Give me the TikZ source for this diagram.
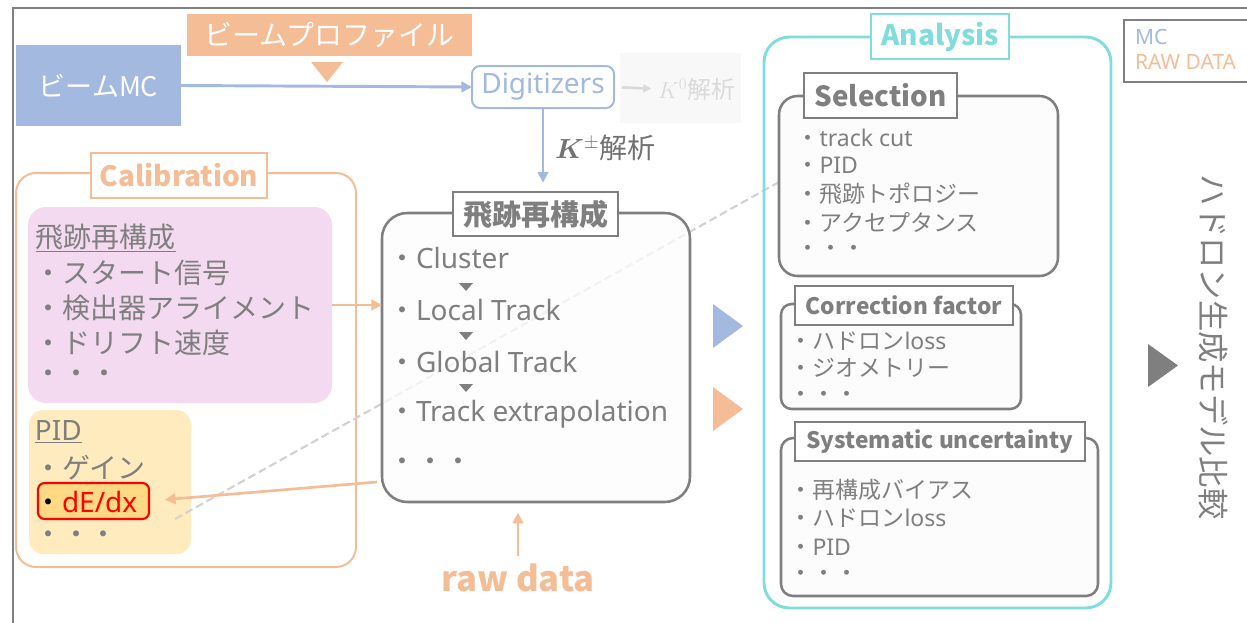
\documentclass[tikz,border=0pt]{standalone}
\usepackage{fontspec}
\usepackage{bm}
\setmainfont{Noto Sans}
\newfontfamily\jp{Noto Sans CJK JP}
\usetikzlibrary{arrows.meta,fit}
\definecolor{mcblue}{HTML}{A3B9E0}
\definecolor{rawor}{HTML}{F4BD96}
\definecolor{tgray}{HTML}{7F7F7F}
\definecolor{framegray}{HTML}{808080}
\definecolor{cyanA}{HTML}{80DCDD}
\definecolor{pinkF}{HTML}{F4DAF1}
\definecolor{yelF}{HTML}{FFEBBE}
\definecolor{hlF}{HTML}{FFD983}
\definecolor{boxF}{HTML}{FCFCFC}
\definecolor{faintT}{HTML}{DADADA}
\definecolor{faintBG}{HTML}{F8F8F8}
\definecolor{dashG}{HTML}{D2D2D2}
\newcommand{\fsz}[1]{\fontsize{#1}{#1}\selectfont}
\begin{document}
\begin{tikzpicture}[x=0.75pt,y=-0.75pt,
  every node/.style={inner sep=0pt, outer sep=0pt},
  item/.style={anchor=west, text=tgray},
  titlebox/.style={draw=tgray, line width=1.9pt, fill=white, text=tgray},
  grbox/.style={draw=tgray, line width=1.9pt, fill=boxF},
  tip/.style={-{Triangle[length=8pt,width=8pt]}}
]
\useasboundingbox (0,0) rectangle (1247,622);
% outer frame
\draw[framegray, line width=2.2pt] (13,630) -- (13,8) -- (1260,8);

% top row
\node[fill=mcblue, minimum width=123.75pt, minimum height=60.75pt, text=white, font=\jp\fsz{20.25}] (bmc) at (98.5,85.5) {ビームMC};
\node[fill=rawor, minimum width=213.75pt, minimum height=31.5pt, text=white, font=\jp\fsz{21}] (prof) at (329.5,35) {ビームプロファイル};
\fill[rawor] (311,62) -- (343,62) -- (327,82) -- cycle;
\fill[faintBG] (620,53) rectangle (741,123);
\node[draw=mcblue, line width=1.5pt, rounded corners=6pt, fill=white, minimum width=106.5pt, minimum height=31.5pt, text=mcblue, font=\fsz{21}] (dig) at (543,87) {Digitizers};
\draw[mcblue, line width=2.2pt, tip] (bmc.east) -- (dig.west);
\node[anchor=west, text=faintT, font=\fsz{18}] (k0) at (658,89) {$K^{0}${\jp 解析}};
\draw[faintT, line width=2pt, -{Triangle[length=6pt,width=6pt]}, shorten <=6pt, shorten >=5pt] (dig.east) -- (k0.west);
\node[anchor=west, text=tgray!90!black, font=\fsz{21}] (kpm) at (555,148) {$\bm{K}^{\pm}${\jp 解析}};

% calibration
\node[draw=rawor, line width=1.5pt, rounded corners=15pt, fill=white, fit={(16,173)(356,567)}] (calib) {};
\node[draw=rawor, line width=1.5pt, fill=white, minimum width=132pt, minimum height=33.75pt, text=rawor, font=\jp\bfseries\fsz{21}] (calibT) at (179,175.5) {Calibration};
\node[fill=pinkF, rounded corners=13.5pt, fit={(28,207)(332,403)}] (pink) {};
\node[item, font=\jp\fsz{21}] (p0) at (36,238) {\underline{飛跡再構成}};
\node[item, font=\jp\fsz{21}] (p1) at (35,273) {・スタート信号};
\node[item, font=\jp\fsz{21}] (p2) at (35,308) {・検出器アライメント};
\node[item, font=\jp\fsz{21}] (p3) at (35,343) {・ドリフト速度};
\node[item, font=\jp\fsz{21}] (p4) at (35,377) {・・・};
\node[fill=yelF, rounded corners=11pt, fit={(29,410)(191,554)}] (yel) {};
\node[item, font=\fsz{21}] (y0) at (35,432) {\underline{PID}};
\node[item, font=\jp\fsz{21}] (y1) at (34,468) {・ゲイン};
\node[draw=red, line width=1.6pt, fill=hlF, rounded corners=5pt, fit={(38,483)(149,519)}] (hl) {};
\node[anchor=west, font=\fsz{21}, text=red] (y2) at (34,502) {{\jp\color{black}・}dE/dx};
\node[item, font=\jp\fsz{21}] (y3) at (34,538) {・・・};

% dashed link
\coordinate (ds) at (175,519);
\coordinate (de) at (797,172);
\draw[dashG, line width=1.6pt, dash pattern=on 6pt off 3pt, -{Triangle[length=6pt,width=6pt]}] (ds) -- (de);

% reconstruction box
\node[grbox, fill opacity=0.75, rounded corners=19pt, fit={(382,213)(690,502)}] (reco) {};
\node[titlebox, minimum width=123.75pt, minimum height=33pt, font=\jp\bfseries\fsz{21.75}] (recoT) at (535.5,214) {飛跡再構成};
\node[item, font=\fsz{21}] (r1) at (388,258) {{\jp ・}Cluster};
\node[item, font=\fsz{21}] (r2) at (388,310) {{\jp ・}Local Track};
\node[item, font=\fsz{21}] (r3) at (388,362) {{\jp ・}Global Track};
\node[item, font=\fsz{21}] (r4) at (388,414) {{\jp ・}Track extrapolation};
\node[item, font=\jp\fsz{21}] (r5) at (388,465) {・・・};
\fill[tgray] (459,283) -- (473,283) -- (466,291) -- cycle;
\fill[tgray] (459,332) -- (473,332) -- (466,340) -- cycle;
\fill[tgray] (459,384) -- (473,384) -- (466,392) -- cycle;
\draw[mcblue, line width=2.2pt, tip, shorten >=7pt] (dig.south) -- (dig.south |- recoT.north);
\draw[rawor, line width=2pt, tip] (pink.east) -- (pink.east -| reco.west);
\coordinate (ra) at (377,482);
\draw[rawor, line width=2pt, tip, shorten >=12pt] (ra) -- (hl.east);
\node[text=rawor, font=\jp\bfseries\fsz{26}] (raw) at (518,578) {raw data};
\draw[rawor, line width=2.2pt, tip, shorten <=6pt, shorten >=8pt] (raw.north) -- (raw.north |- reco.south);
\fill[mcblue] (713,304) -- (743,326) -- (713,348) -- cycle;
\fill[rawor] (713,387) -- (743,409) -- (713,431) -- cycle;

% analysis
\node[draw=cyanA, line width=2.2pt, rounded corners=19pt, fit={(764,37)(1111,608)}] (ana) {};
\node[draw=cyanA, line width=2pt, fill=white, minimum width=103.5pt, minimum height=33.75pt, text=cyanA, font=\jp\bfseries\fsz{21}] (anaT) at (940,36.5) {Analysis};

\node[grbox, rounded corners=14pt, fit={(779,96)(1058,276)}] (sel) {};
\node[titlebox, minimum width=114.75pt, minimum height=33.75pt, font=\jp\bfseries\fsz{20.8}] (selT) at (880.5,95.5) {Selection};
\node[item, font=\fsz{17.25}] (s1) at (796.5,138) {{\jp ・}track cut};
\node[item, font=\fsz{17.25}] (s2) at (796.5,165) {{\jp ・}PID};
\node[item, font=\jp\fsz{17.25}] (s3) at (796.5,194) {・飛跡トポロジー};
\node[item, font=\jp\fsz{17.25}] (s4) at (796.5,222) {・アクセプタンス};
\node[item, font=\jp\fsz{17.25}] (s5) at (796.5,251) {・・・};

\node[grbox, rounded corners=8pt, fit={(781,304)(1021,409)}] (cor) {};
\node[titlebox, minimum width=163.5pt, minimum height=29.25pt, font=\jp\bfseries\fsz{17}] (corT) at (904,305.5) {Correction factor};
\node[item, font=\fsz{17.25}] (c1) at (789.5,341) {{\jp ・ハドロン}loss};
\node[item, font=\jp\fsz{17.25}] (c2) at (789.5,368) {・ジオメトリー};
\node[item, font=\jp\fsz{17.25}] (c3) at (789.5,397) {・・・};

\node[grbox, rounded corners=9pt, fit={(781,438)(1098,596)}] (sys) {};
\node[titlebox, minimum width=217.5pt, minimum height=29.25pt, font=\jp\bfseries\fsz{17}] (sysT) at (940,441.5) {Systematic uncertainty};
\node[item, font=\jp\fsz{17.25}] (u1) at (789.5,490) {・再構成バイアス};
\node[item, font=\fsz{17.25}] (u2) at (789.5,518) {{\jp ・ハドロン}loss};
\node[item, font=\fsz{17.25}] (u3) at (789.5,547) {{\jp ・}PID};
\node[item, font=\jp\fsz{17.25}] (u4) at (789.5,576) {・・・};

% legend
\draw[framegray, line width=1.5pt] (1124,20) rectangle (1262,82);
\node[anchor=west, text=mcblue, font=\fsz{15.75}] (lmc) at (1135,37) {MC};
\node[anchor=west, text=rawor, font=\fsz{15.75}] (lraw) at (1135,62) {RAW DATA};

% comparison
\fill[tgray] (1148,344) -- (1178,365.5) -- (1148,387) -- cycle;
\node[rotate=-90, text=tgray, font=\jp\fsz{23.5}] (cmp) at (1213,347) {ハドロン生成モデル比較};
\end{tikzpicture}
\end{document}
